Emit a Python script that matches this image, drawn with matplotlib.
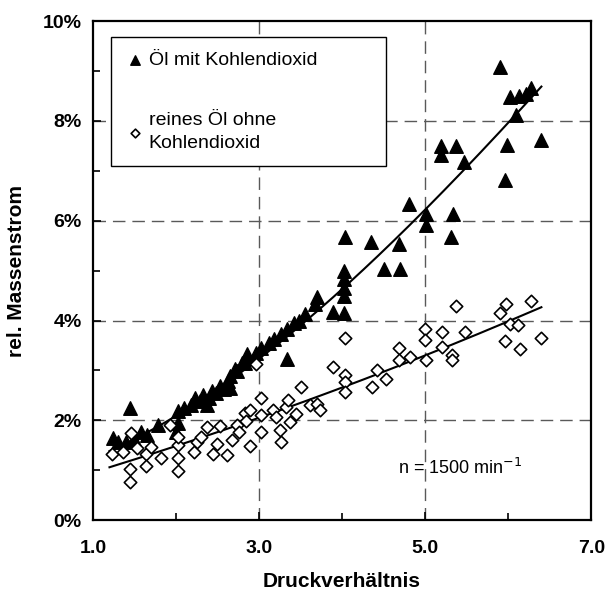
import numpy as np
import matplotlib
matplotlib.use("Agg")
from matplotlib import pyplot as plt
from matplotlib.ticker import FixedLocator, FuncFormatter

plt.rcParams['font.family'] = ['Liberation Sans', 'DejaVu Sans']

# Öl mit Kohlendioxid (Dreiecke)
co2_x = [1.24, 1.30, 1.40, 1.45, 1.50, 1.58, 1.65, 1.78, 2.00, 2.03, 2.03, 2.10,
         2.18, 2.23, 2.29, 2.33, 2.37, 2.40, 2.43, 2.48, 2.53, 2.58, 2.63, 2.65,
         2.65, 2.71, 2.73, 2.79, 2.83, 2.85, 2.87, 2.96, 3.02, 3.12, 3.18, 3.26,
         3.34, 3.34, 3.42, 3.48, 3.56, 3.68, 3.70, 3.89, 4.02, 4.02, 4.02, 4.02,
         4.02, 4.03, 4.35, 4.51, 4.69, 4.70, 4.81, 5.01, 5.01, 5.19, 5.19, 5.31,
         5.33, 5.37, 5.47, 5.90, 5.96, 5.99, 6.02, 6.10, 6.13, 6.21, 6.27, 6.39]
co2_y = [1.64, 1.57, 1.57, 2.25, 1.62, 1.77, 1.70, 1.91, 1.77, 1.94, 2.18, 2.25,
         2.30, 2.45, 2.38, 2.51, 2.31, 2.45, 2.58, 2.55, 2.68, 2.62, 2.78, 2.65,
         2.88, 3.02, 2.98, 3.15, 3.15, 3.32, 3.25, 3.35, 3.45, 3.55, 3.62, 3.72,
         3.82, 3.22, 3.96, 3.99, 4.13, 4.33, 4.48, 4.17, 4.15, 4.50, 4.66, 4.83,
         5.00, 5.67, 5.57, 5.03, 5.54, 5.03, 6.34, 6.14, 5.91, 7.49, 7.32, 5.67,
         6.14, 7.49, 7.18, 9.07, 6.81, 7.52, 8.48, 8.12, 8.49, 8.53, 8.66, 7.62]

# reines Öl ohne Kohlendioxid (Rauten)
oil_x = [1.23, 1.36, 1.45, 1.45, 1.46, 1.53, 1.64, 1.64, 1.70, 1.82, 1.93, 2.02,
         2.03, 2.02, 2.03, 2.22, 2.25, 2.30, 2.37, 2.45, 2.49, 2.53, 2.61, 2.68,
         2.73, 2.76, 2.83, 2.84, 2.89, 2.89, 2.96, 3.02, 3.03, 3.03, 3.17, 3.21,
         3.25, 3.27, 3.33, 3.35, 3.37, 3.45, 3.51, 3.61, 3.70, 3.73, 3.89, 4.03,
         4.03, 4.03, 4.03, 4.36, 4.42, 4.53, 4.68, 4.68, 4.82, 5.00, 5.00, 5.01,
         5.20, 5.20, 5.32, 5.32, 5.37, 5.48, 5.90, 5.96, 5.98, 6.02, 6.12, 6.14,
         6.27, 6.39]
oil_y = [1.32, 1.37, 0.77, 1.03, 1.74, 1.45, 1.32, 1.08, 1.47, 1.24, 1.90, 0.98,
         1.25, 1.50, 1.66, 1.36, 1.57, 1.66, 1.86, 1.32, 1.52, 1.88, 1.30, 1.60,
         1.90, 1.77, 2.15, 1.98, 1.48, 2.20, 3.12, 2.45, 1.77, 2.10, 2.20, 2.07,
         1.80, 1.57, 2.27, 2.40, 1.97, 2.13, 2.67, 2.30, 2.33, 2.20, 3.07, 3.64,
         2.90, 2.77, 2.57, 2.67, 3.00, 2.83, 3.45, 3.20, 3.27, 3.83, 3.61, 3.20,
         3.77, 3.47, 3.30, 3.20, 4.29, 3.77, 4.15, 3.58, 4.33, 3.93, 3.90, 3.43,
         4.40, 3.65]

fit_x = [1.2, 2.0, 3.0, 4.0, 5.0, 6.0, 6.4]
co2_fit_y = [1.4, 2.05, 3.25, 4.65, 6.2, 7.95, 8.7]
oil_fit_y = [1.05, 1.5, 2.05, 2.65, 3.3, 3.98, 4.27]

fig = plt.figure(figsize=(6.07, 6.02), dpi=100)
ax = fig.add_axes([0.153, 0.136, 0.821, 0.829])

# Gitterlinien gestrichelt
for yg in [2, 4, 6, 8]:
    ax.axhline(yg, color='0.35', lw=1.0, dashes=(9, 5), zorder=1)
for xg in [3, 5]:
    ax.axvline(xg, color='0.35', lw=1.0, dashes=(9, 5), zorder=1)

xs = np.linspace(1.2, 6.4, 200)
ax.plot(xs, np.polyval(np.polyfit(fit_x, co2_fit_y, 3), xs), color='black', lw=1.5, zorder=3)
ax.plot(xs, np.polyval(np.polyfit(fit_x, oil_fit_y, 2), xs), color='black', lw=1.5, zorder=3)

ax.scatter(co2_x, co2_y, marker='^', s=95, color='black', zorder=4,
           label='Öl mit Kohlendioxid')
ax.scatter(oil_x, oil_y, marker='D', s=40, facecolor='white', edgecolor='black',
           linewidths=1.2, zorder=5, label='reines Öl ohne\nKohlendioxid')

ax.text(5.42, 1.04, 'n = 1500 min$^{-1}$', ha='center', va='center', fontsize=13)

ax.set_xlim(1, 7)
ax.set_ylim(0, 10)
ax.xaxis.set_major_locator(FixedLocator([1, 3, 5, 7]))
ax.xaxis.set_minor_locator(FixedLocator([2, 4, 6]))
ax.yaxis.set_major_locator(FixedLocator([0, 2, 4, 6, 8, 10]))
ax.yaxis.set_minor_locator(FixedLocator([1, 3, 5, 7, 9]))
ax.xaxis.set_major_formatter(FuncFormatter(lambda v, p: f'{v:.1f}'))
ax.yaxis.set_major_formatter(FuncFormatter(lambda v, p: f'{v:.0f}%'))
ax.tick_params(which='both', direction='in', width=1.2)
ax.tick_params(which='major', length=6, labelsize=14)
ax.tick_params(which='minor', length=5)
ax.tick_params(axis='x', pad=14)
ax.tick_params(axis='y', pad=8)
for lab in ax.get_xticklabels() + ax.get_yticklabels():
    lab.set_fontweight('bold')
for sp in ax.spines.values():
    sp.set_linewidth(1.6)

ax.set_xlabel('Druckverhältnis', fontsize=15, fontweight='bold', labelpad=11)
ax.set_ylabel('rel. Massenstrom', fontsize=15, fontweight='bold', labelpad=12)

leg = ax.legend(loc='upper left', bbox_to_anchor=(0.036, 0.0, 0.552, 0.968),
                mode='expand', borderaxespad=0, fancybox=False, framealpha=1,
                edgecolor='black', fontsize=14, labelspacing=2.2,
                handletextpad=0.2, handlelength=1.0, borderpad=0.75,
                markerscale=0.7)
leg.get_frame().set_linewidth(1.0)
for t in leg.get_texts():
    t.set_linespacing(1.45)
leg.set_zorder(6)

fig.savefig('out.png', dpi=100)
